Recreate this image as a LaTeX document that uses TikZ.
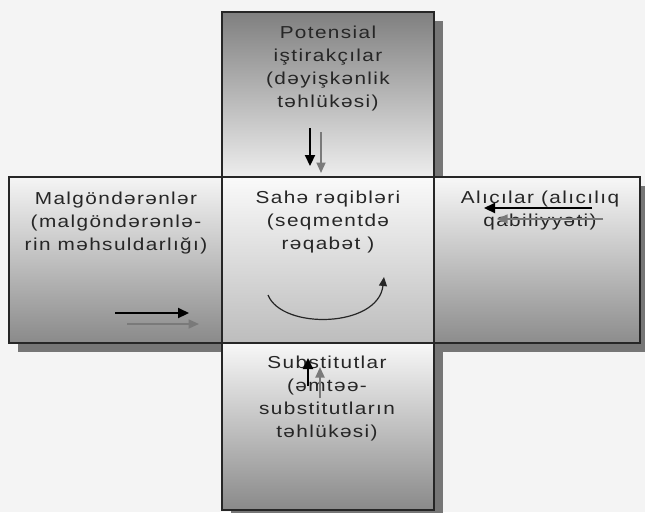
\documentclass[tikz,border=0pt]{standalone}
\usepackage{fontspec}
\setmainfont{Liberation Sans}[LetterSpace=8, FakeStretch=1.2]
\usetikzlibrary{arrows.meta}

\definecolor{bgc}{HTML}{F4F4F4}
\definecolor{shade}{HTML}{767676}
\definecolor{arrgray}{HTML}{7A7A7A}

\tikzset{
  cell/.style={draw=black!85, line width=1.3pt, rectangle, inner sep=0pt, outer sep=0pt},
  lbl/.style={inner sep=0pt, align=center, font=\fontsize{17.3}{23}\selectfont, text=black!85},
  shadowbox/.style={fill=shade, draw=none},
  blackarrow/.style={draw=black, line width=2.2pt, -{Triangle[length=11pt,width=10pt]}},
  grayarrow/.style={draw=arrgray, line width=1.8pt, -{Triangle[length=10.5pt,width=9pt]}},
}

\begin{document}
\begin{tikzpicture}[x=1pt,y=-1pt]
\useasboundingbox[fill=bgc] (0,0) rectangle (645,512);

% drop shadows, offset down and to the right
\fill[shadowbox] (231,21) rectangle (443,186);
\fill[shadowbox] (18,186) rectangle (231,352);
\fill[shadowbox] (231,186) rectangle (443,352);
\fill[shadowbox] (443,186) rectangle (649,352);
\fill[shadowbox] (231,352) rectangle (443,519);

% the five cells of the cross
\node[cell, minimum width=212pt, minimum height=165pt,
      top color=black!50, bottom color=black!7] (topcell) at (328,94.5) {};
\node[cell, minimum width=213pt, minimum height=166pt,
      top color=black!4, bottom color=black!46] (leftcell) at (115.5,260) {};
\node[cell, minimum width=212pt, minimum height=166pt,
      top color=black!2, middle color=black!18, bottom color=black!26] (midcell) at (328,260) {};
\node[cell, minimum width=206pt, minimum height=166pt,
      top color=black!3, bottom color=black!45] (rightcell) at (537,260) {};
\node[cell, minimum width=212pt, minimum height=167pt,
      top color=black!3, bottom color=black!46] (botcell) at (328,426.5) {};

% labels
\node[lbl, anchor=north] (toptext) at (328,26)
  {Potensial\\iştirakçılar\\(dəyişkənlik\\təhlükəsi)};
\node[lbl, anchor=north] (lefttext) at (116,192)
  {Malgöndərənlər\\(malgöndərənlə-\\rin məhsuldarlığı)};
\node[lbl, anchor=north] (midtext) at (328,191)
  {Sahə rəqibləri\\(seqmentdə\\rəqabət )};
\node[lbl, anchor=north] (righttext) at (540,191)
  {Alıcılar (alıcılıq\\qabiliyyəti)};
\node[lbl, anchor=north] (bottext) at (327,356)
  {Substitutlar\\(əmtəə-\\substitutların\\təhlükəsi)};

% arrow end points
\coordinate (tb1) at (310,128); \coordinate (tb2) at (310,166);
\coordinate (tg1) at (321,132); \coordinate (tg2) at (321,173);
\coordinate (lb1) at (115,313); \coordinate (lb2) at (189,313);
\coordinate (lg1) at (127,324); \coordinate (lg2) at (199,324);
\coordinate (rb1) at (592,208); \coordinate (rb2) at (484,208);
\coordinate (rg1) at (603,219); \coordinate (rg2) at (497,219);
\coordinate (bb1) at (308,386); \coordinate (bb2) at (308,358);
\coordinate (bg1) at (320,398); \coordinate (bg2) at (320,367);
\coordinate (c1) at (268,295); \coordinate (c2) at (384,277);

\draw[blackarrow] (tb1) -- (tb2);
\draw[grayarrow] (tg1) -- (tg2);
\draw[blackarrow] (lb1) -- (lb2);
\draw[grayarrow] (lg1) -- (lg2);
\draw[blackarrow] (rb1) -- (rb2);
\draw[grayarrow, line width=1.4pt] (rg1) -- (rg2);
\draw[blackarrow] (bb1) -- (bb2);
\draw[grayarrow] (bg1) -- (bg2);

% rivalry loop in the middle cell
\draw[black!85, line width=1.2pt, -{Triangle[length=9pt,width=8pt]}]
  (c1) .. controls (282,330) and (378,328) .. (c2);
\end{tikzpicture}
\end{document}
